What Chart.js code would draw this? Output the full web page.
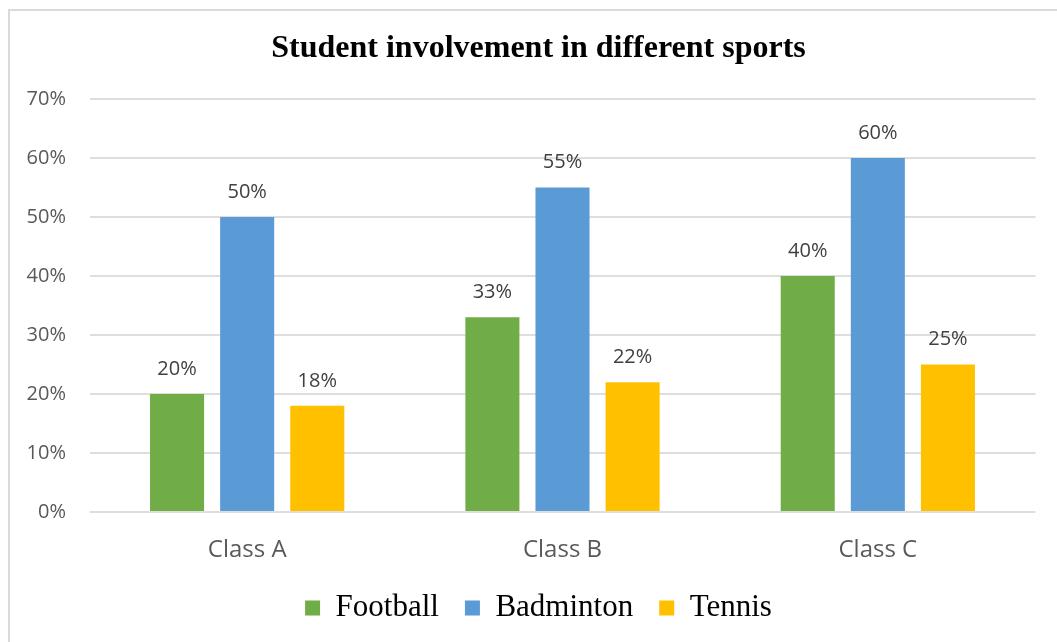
<!DOCTYPE html>
<html lang="en">
<head>
    <meta charset="UTF-8">
    <title>Student involvement in different sports</title>
    <script src="https://cdn.jsdelivr.net/npm/chart.js"></script>
    <style>
        body { margin: 0; background: #fff; overflow: hidden; }
        #frame { position: absolute; left: 8px; top: 9px; width: 1100px; height: 700px; border: 2px solid #d9d9d9; }
        #myChart { position: absolute; left: 0; top: 0; }
    </style>
</head>
<body>
<div id="frame"></div>
<canvas id="myChart" width="1057" height="642"></canvas>
<script>
    const classes = ['Class A', 'Class B', 'Class C'];
    const football = [20, 33, 40];
    const badminton = [50, 55, 60];
    const tennis = [18, 22, 25];

    // draws the % label above each bar
    const barLabels = {
        id: 'barLabels',
        afterDatasetsDraw(chart) {
            const ctx = chart.ctx;
            ctx.save();
            ctx.font = '20px "Open Sans"';
            ctx.fillStyle = '#404040';
            ctx.textAlign = 'center';
            ctx.textBaseline = 'middle';
            chart.data.datasets.forEach((ds, i) => {
                chart.getDatasetMeta(i).data.forEach((bar, j) => {
                    ctx.fillText(ds.data[j] + '%', bar.x, bar.y - 25);
                });
            });
            ctx.restore();
        }
    };

    const ctx = document.getElementById('myChart').getContext('2d');
    new Chart(ctx, {
        type: 'bar',
        data: {
            labels: classes,
            datasets: [
                { label: 'Football', data: football, backgroundColor: '#70AD47' },
                { label: 'Badminton', data: badminton, backgroundColor: '#5B9BD5' },
                { label: 'Tennis', data: tennis, backgroundColor: '#FFC000' }
            ]
        },
        options: {
            responsive: false,
            animation: false,
            layout: { padding: { left: 20, right: 0, top: 0, bottom: 8.5 } },
            datasets: { bar: { categoryPercentage: 0.667, barPercentage: 0.771 } },
            plugins: {
                title: {
                    display: true,
                    text: 'Student involvement in different sports',
                    color: '#000',
                    font: { family: '"Liberation Serif", "Times New Roman", serif', size: 32, weight: 'bold', lineHeight: 1.2 },
                    padding: { top: 30, bottom: 30.6 }
                },
                legend: {
                    position: 'bottom',
                    labels: {
                        color: '#000',
                        font: { family: '"Liberation Serif", "Times New Roman", serif', size: 31 },
                        boxWidth: 15,
                        boxHeight: 15,
                        padding: 26
                    }
                },
                tooltip: { enabled: false }
            },
            scales: {
                x: {
                    grid: { display: false },
                    border: { display: false },
                    ticks: { color: '#595959', font: { family: '"Open Sans"', size: 24 }, padding: 16 },
                    afterFit(scale) { scale.height = 54.5; }
                },
                y: {
                    min: 0,
                    max: 70,
                    grid: { color: '#dedede', lineWidth: 2, drawTicks: false },
                    border: { display: false },
                    ticks: {
                        stepSize: 10,
                        color: '#595959',
                        font: { family: '"Open Sans"', size: 20 },
                        padding: 23.5,
                        callback: v => v + '%'
                    },
                    afterFit(scale) { scale.width = 69.5; }
                },
                // empty right-hand spacer so the plot ends where the reference does
                yRight: {
                    type: 'linear',
                    position: 'right',
                    grid: { display: false },
                    border: { display: false },
                    ticks: { display: false },
                    afterFit(scale) { scale.width = 21.5; }
                }
            }
        },
        plugins: [barLabels]
    });
</script>
</body>
</html>
